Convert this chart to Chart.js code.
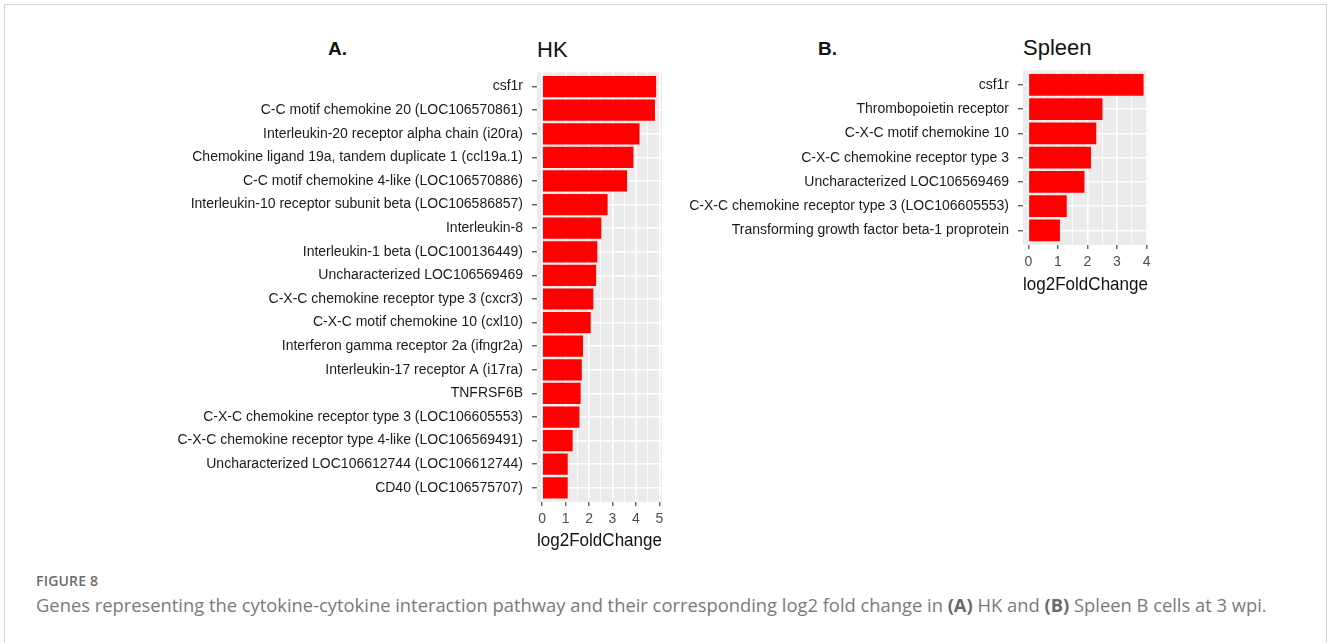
<!DOCTYPE html>
<html>
<head>
<meta charset="utf-8">
<script src="https://cdn.jsdelivr.net/npm/chart.js@4/dist/chart.umd.min.js"></script>
<style>
  html, body { margin: 0; padding: 0; background: #fff; }
  body { width: 1328px; height: 643px; position: relative; overflow: hidden; font-family: "Liberation Sans", Arial, sans-serif; }
  .frame { position: absolute; left: 4px; top: 4px; width: 1321px; height: 700px; border: 1px solid #d2d2d2; border-bottom: none; }
  canvas { position: absolute; }
  .txt { position: absolute; white-space: nowrap; line-height: 1; color: #111; }
  .panel-tag { font-size: 19px; font-weight: bold; }
  .panel-title { font-size: 22px; }
  .fig-no { font-family: "Open Sans", sans-serif; font-size: 14px; font-weight: 600; letter-spacing: 0.2px; color: #6b6b6b; left: 36px; top: 574px; }
  .caption { font-family: "Open Sans", sans-serif; font-size: 18.35px; color: #7a7a7a; left: 36px; top: 596px; }
  .caption b { color: #6a6a6a; }
</style>
</head>
<body>
<div class="frame"></div>

<div class="txt panel-tag" style="left:328px; top:39px;">A.</div>
<div class="txt panel-title" style="left:537px; top:39px;">HK</div>
<div class="txt panel-tag" style="left:818px; top:39px;">B.</div>
<div class="txt panel-title" style="left:1023px; top:37px;">Spleen</div>

<canvas id="hk" width="582" height="497" style="left:100px; top:55px;"></canvas>
<canvas id="spleen" width="568" height="243" style="left:600px; top:53px;"></canvas>

<div class="txt fig-no">FIGURE 8</div>
<div class="txt caption">Genes representing the cytokine-cytokine interaction pathway and their corresponding log2 fold change in <b>(A)</b> HK and <b>(B)</b> Spleen B cells at 3 wpi.</div>

<script>
// Head kidney (HK) genes and their log2 fold changes, top to bottom
const hkGenes = [
  "csf1r",
  "C-C motif chemokine 20 (LOC106570861)",
  "Interleukin-20 receptor alpha chain (i20ra)",
  "Chemokine ligand 19a, tandem duplicate 1 (ccl19a.1)",
  "C-C motif chemokine 4-like (LOC106570886)",
  "Interleukin-10 receptor subunit beta (LOC106586857)",
  "Interleukin-8",
  "Interleukin-1 beta (LOC100136449)",
  "Uncharacterized LOC106569469",
  "C-X-C chemokine receptor type 3 (cxcr3)",
  "C-X-C motif chemokine 10 (cxl10)",
  "Interferon gamma receptor 2a (ifngr2a)",
  "Interleukin-17 receptor A (i17ra)",
  "TNFRSF6B",
  "C-X-C chemokine receptor type 3 (LOC106605553)",
  "C-X-C chemokine receptor type 4-like (LOC106569491)",
  "Uncharacterized LOC106612744 (LOC106612744)",
  "CD40 (LOC106575707)"
];
const hkLog2FC = [4.86, 4.81, 4.15, 3.89, 3.62, 2.79, 2.52, 2.35, 2.30, 2.18, 2.07, 1.74, 1.69, 1.64, 1.59, 1.30, 1.09, 1.09];
const hkTicks = [0, 1, 2, 3, 4, 5];

// Spleen genes and their log2 fold changes, top to bottom
const spleenGenes = [
  "csf1r",
  "Thrombopoietin receptor",
  "C-X-C motif chemokine 10",
  "C-X-C chemokine receptor type 3",
  "Uncharacterized LOC106569469",
  "C-X-C chemokine receptor type 3 (LOC106605553)",
  "Transforming growth factor beta-1 proprotein"
];
const spleenLog2FC = [3.90, 2.51, 2.30, 2.12, 1.90, 1.30, 1.07];
const spleenTicks = [0, 1, 2, 3, 4];

const FONT = "'Liberation Sans', Arial, sans-serif";

// grey panel behind the plotting area
const panelBg = {
  id: 'panelBg',
  beforeDraw(chart) {
    const { ctx, chartArea: a } = chart;
    ctx.save();
    ctx.fillStyle = '#ebebeb';
    ctx.fillRect(a.left, a.top, a.right - a.left, a.bottom - a.top);
    ctx.restore();
  }
};

function drawPanel(id, genes, values, ticks, xMin, xMax, yAxisWidth, xAxisHeight) {
  // major ticks plus minor grid positions halfway between them
  const gridVals = [];
  ticks.forEach((t, i) => {
    gridVals.push(t);
    if (i < ticks.length - 1) gridVals.push((t + ticks[i + 1]) / 2);
  });
  const isMajor = v => ticks.includes(v);

  new Chart(document.getElementById(id), {
    type: 'bar',
    data: {
      datasets: [{
        data: values.map((v, i) => ({ x: v, y: i })),
        backgroundColor: '#ff0000',
        borderWidth: 0,
        barPercentage: 0.9,
        categoryPercentage: 1.0
      }]
    },
    options: {
      indexAxis: 'y',
      responsive: false,
      animation: false,
      layout: { padding: { top: 0, right: 20, bottom: 0, left: 0 } },
      plugins: { legend: { display: false }, tooltip: { enabled: false } },
      scales: {
        x: {
          type: 'linear',
          min: xMin,
          max: xMax,
          offset: false,
          afterBuildTicks: s => { s.ticks = gridVals.map(v => ({ value: v })); },
          afterFit: s => { s.height = xAxisHeight; },
          border: { display: false },
          grid: {
            offset: false,
            color: '#ffffff',
            lineWidth: c => (c.tick && isMajor(c.tick.value)) ? 1.6 : 0.8,
            drawTicks: true,
            tickLength: 4,
            tickWidth: 1.1,
            tickColor: c => (c.tick && isMajor(c.tick.value)) ? '#333333' : 'rgba(0,0,0,0)'
          },
          ticks: {
            autoSkip: false,
            maxRotation: 0,
            padding: 5,
            color: '#4d4d4d',
            font: { family: FONT, size: 14 },
            callback: v => isMajor(v) ? String(v) : ''
          },
          title: {
            display: true,
            text: 'log2FoldChange',
            color: '#111111',
            font: { family: FONT, size: 18 },
            padding: { top: 0, bottom: 0 }
          }
        },
        y: {
          type: 'linear',
          reverse: true,
          min: -0.6,
          max: genes.length - 1 + 0.6,
          offset: false,
          afterBuildTicks: s => { s.ticks = genes.map((g, i) => ({ value: i })); },
          afterFit: s => { s.width = yAxisWidth; },
          border: { display: false },
          grid: {
            offset: false,
            color: '#ffffff',
            lineWidth: 1.6,
            drawTicks: true,
            tickLength: 5,
            tickWidth: 1.1,
            tickColor: '#333333'
          },
          ticks: {
            autoSkip: false,
            padding: 9,
            color: '#1a1a1a',
            font: { family: FONT, size: 14 },
            callback: v => genes[v]
          }
        }
      }
    },
    plugins: [panelBg]
  });
}

drawPanel('hk', hkGenes, hkLog2FC, hkTicks, -0.22, 5.11, 437, 50);
drawPanel('spleen', spleenGenes, spleenLog2FC, spleenTicks, -0.18, 4.05, 423, 51);
</script>
</body>
</html>
